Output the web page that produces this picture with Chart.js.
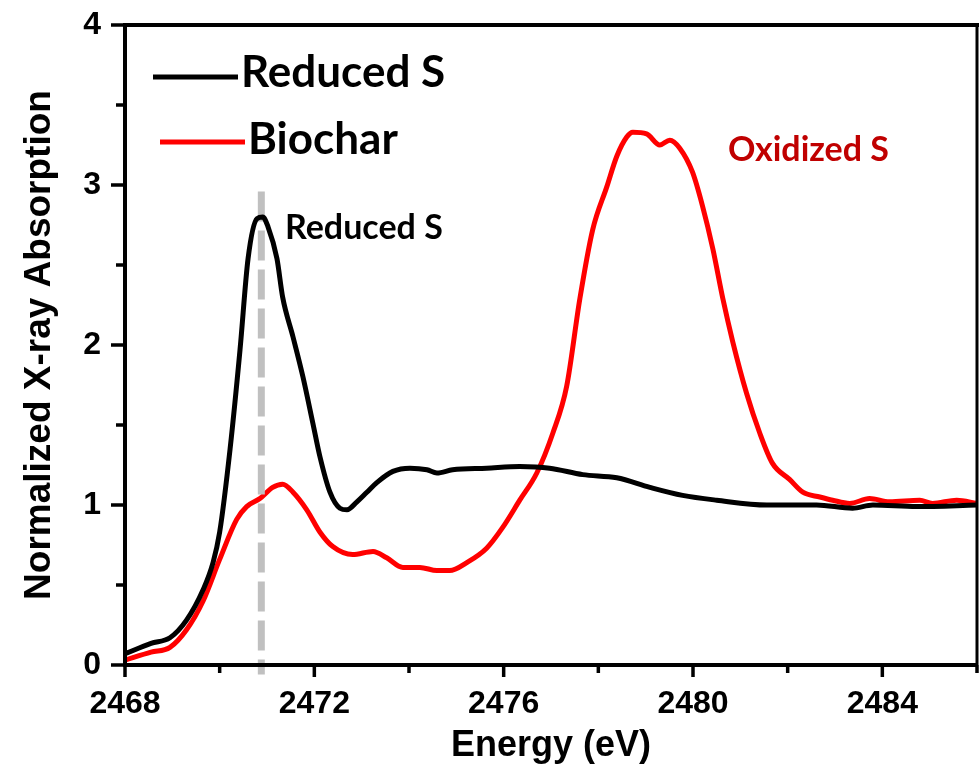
<!DOCTYPE html>
<html>
<head>
<meta charset="utf-8">
<script src="https://cdn.jsdelivr.net/npm/chart.js@4.4.1/dist/chart.umd.min.js"></script>
<style>
  html, body { margin: 0; padding: 0; background: #fff; }
  #wrap { width: 979px; height: 770px; }
</style>
</head>
<body>
<div id="wrap"><canvas id="canvas" width="979" height="770"></canvas></div>
<script>
// Reduced S reference spectrum
const reducedX = [2468.0, 2468.55, 2468.95, 2469.3, 2469.65, 2469.86, 2470.0, 2470.22, 2470.43, 2470.6, 2470.79, 2470.91, 2471.02, 2471.21, 2471.33, 2471.55, 2471.76, 2471.97, 2472.12, 2472.33, 2472.54, 2472.69, 2472.9, 2473.11, 2473.32, 2473.66, 2474.02, 2474.38, 2474.59, 2474.92, 2475.64, 2476.34, 2476.97, 2477.67, 2478.39, 2479.09, 2479.78, 2480.5, 2481.56, 2482.61, 2483.37, 2483.8, 2484.72, 2486.0];
const reducedY = [0.07, 0.135, 0.17, 0.28, 0.47, 0.64, 0.83, 1.35, 1.97, 2.54, 2.79, 2.80, 2.74, 2.54, 2.30, 2.05, 1.80, 1.51, 1.30, 1.08, 0.98, 0.97, 1.02, 1.08, 1.14, 1.21, 1.23, 1.22, 1.20, 1.22, 1.23, 1.24, 1.23, 1.19, 1.17, 1.11, 1.06, 1.03, 1.00, 1.00, 0.98, 1.00, 0.99, 1.00];

// Biochar spectrum
const biocharX = [2468.0, 2468.55, 2468.95, 2469.3, 2469.65, 2470.0, 2470.36, 2470.57, 2470.85, 2471.12, 2471.33, 2471.55, 2471.84, 2472.12, 2472.39, 2472.81, 2473.24, 2473.53, 2473.87, 2474.23, 2474.59, 2474.86, 2475.22, 2475.64, 2475.98, 2476.34, 2476.7, 2477.04, 2477.33, 2477.61, 2477.88, 2478.18, 2478.39, 2478.6, 2478.73, 2479.02, 2479.3, 2479.51, 2479.72, 2479.99, 2480.2, 2480.42, 2480.63, 2480.84, 2481.13, 2481.41, 2481.68, 2482.04, 2482.32, 2482.68, 2482.95, 2483.31, 2483.73, 2484.15, 2484.79, 2485.06, 2485.57, 2486.0];
const biocharY = [0.03, 0.08, 0.11, 0.22, 0.40, 0.66, 0.91, 0.99, 1.04, 1.11, 1.13, 1.08, 0.97, 0.83, 0.74, 0.69, 0.71, 0.67, 0.61, 0.61, 0.59, 0.59, 0.64, 0.73, 0.86, 1.03, 1.20, 1.45, 1.74, 2.29, 2.72, 2.99, 3.18, 3.30, 3.33, 3.32, 3.25, 3.28, 3.23, 3.08, 2.87, 2.60, 2.29, 2.02, 1.70, 1.45, 1.26, 1.16, 1.08, 1.05, 1.03, 1.01, 1.04, 1.02, 1.03, 1.01, 1.03, 1.01];

// dashed marker at the reduced S white line
const markerX = [2470.88, 2470.88];
const markerY = [2.96, -0.06];

const xTicks = [2468, 2472, 2476, 2480, 2484];
const yTicks = [0, 1, 2, 3, 4];

const seriesLabels = ['Reduced S', 'Biochar'];
const notes = [
  { text: 'Reduced S', x: 2471.38, y: 2.73, color: '#000000' },
  { text: 'Oxidized S', x: 2480.74, y: 3.22, color: '#c00000' }
];

function pts(xs, ys) {
  return xs.map((x, i) => ({ x: x, y: ys[i] }));
}

const axisFont = "'Liberation Sans', Arial, sans-serif";
const noteFont = "Lato, 'Open Sans', sans-serif";

// keep the plot box fixed, no extra room for label overhang
function fixBox(scale, w, h) {
  if (w) scale.width = w;
  if (h) scale.height = h;
  scale.paddingLeft = 0;
  scale.paddingRight = 0;
  scale.paddingTop = 0;
  scale.paddingBottom = 0;
}

// frame, outward major/minor ticks
const framePlugin = {
  id: 'frame',
  afterDraw(chart) {
    const ctx = chart.ctx;
    const a = chart.chartArea;
    const xs = chart.scales.x, ys = chart.scales.y;
    ctx.save();
    ctx.strokeStyle = '#000';
    ctx.lineCap = 'butt';
    ctx.lineWidth = 3.5;
    xs.ticks.forEach(t => {
      const px = xs.getPixelForValue(t.value);
      const len = xTicks.includes(t.value) ? 12 : 8;
      ctx.beginPath(); ctx.moveTo(px, a.bottom); ctx.lineTo(px, a.bottom + len); ctx.stroke();
    });
    ys.ticks.forEach(t => {
      const py = ys.getPixelForValue(t.value);
      const len = yTicks.includes(t.value) ? 14 : 9;
      ctx.beginPath(); ctx.moveTo(a.left, py); ctx.lineTo(a.left - len, py); ctx.stroke();
    });
    ctx.lineWidth = 4;
    ctx.beginPath();
    ctx.moveTo(a.left, a.top); ctx.lineTo(a.left, a.bottom + 2);
    ctx.moveTo(a.left - 2, a.bottom); ctx.lineTo(a.right, a.bottom);
    ctx.moveTo(a.left - 2, a.top); ctx.lineTo(a.right + 2, a.top);
    ctx.stroke();
    ctx.lineWidth = 3;
    ctx.beginPath(); ctx.moveTo(a.right, a.top); ctx.lineTo(a.right, a.bottom); ctx.stroke();
    ctx.restore();
  }
};

// legend in the upper left plus the two peak labels
const notesPlugin = {
  id: 'notes',
  afterDatasetsDraw(chart) {
    const ctx = chart.ctx;
    const a = chart.chartArea;
    const ds = chart.data.datasets;
    ctx.save();
    ctx.textAlign = 'left';
    ctx.textBaseline = 'middle';
    ctx.font = 'bold 44px ' + noteFont;
    const rows = [
      { x0: a.left + 28, x1: a.left + 113, y: a.top + 52, tx: a.left + 116, ty: a.top + 48 },
      { x0: a.left + 35, x1: a.left + 120, y: a.top + 117, tx: a.left + 123, ty: a.top + 115 }
    ];
    rows.forEach((r, i) => {
      ctx.strokeStyle = ds[i].borderColor;
      ctx.lineWidth = 5;
      ctx.beginPath(); ctx.moveTo(r.x0, r.y); ctx.lineTo(r.x1, r.y); ctx.stroke();
      ctx.fillStyle = '#000';
      ctx.fillText(ds[i].label, r.tx, r.ty);
    });
    ctx.font = 'bold 34px ' + noteFont;
    notes.forEach(n => {
      ctx.fillStyle = n.color;
      ctx.fillText(n.text, chart.scales.x.getPixelForValue(n.x), chart.scales.y.getPixelForValue(n.y));
    });
    ctx.restore();
  }
};

new Chart(document.getElementById('canvas'), {
  type: 'scatter',
  data: {
    datasets: [
      {
        label: seriesLabels[0],
        data: pts(reducedX, reducedY),
        showLine: true,
        borderColor: '#000000',
        borderWidth: 5,
        pointRadius: 0,
        cubicInterpolationMode: 'monotone',
        order: 0
      },
      {
        label: seriesLabels[1],
        data: pts(biocharX, biocharY),
        showLine: true,
        borderColor: '#ff0000',
        borderWidth: 5,
        pointRadius: 0,
        cubicInterpolationMode: 'monotone',
        order: 2
      },
      {
        label: 'marker',
        data: pts(markerX, markerY),
        showLine: true,
        borderColor: '#c0c0c0',
        borderWidth: 7,
        borderDash: [30, 9],
        pointRadius: 0,
        clip: false,
        order: 1
      }
    ]
  },
  options: {
    responsive: false,
    animation: false,
    devicePixelRatio: 1,
    layout: { padding: { top: 25, right: 2, left: 0, bottom: 0 } },
    plugins: { legend: { display: false }, tooltip: { enabled: false } },
    scales: {
      x: {
        type: 'linear',
        min: 2468,
        max: 2486,
        afterFit(scale) { fixBox(scale, 0, 105); },
        grid: { display: false, drawTicks: false },
        border: { display: false },
        ticks: {
          stepSize: 2,
          autoSkip: false,
          maxRotation: 0,
          padding: 20,
          color: '#000',
          font: { family: axisFont, size: 32, weight: 'bold' },
          callback: v => xTicks.includes(v) ? String(v) : ''
        },
        title: {
          display: true,
          text: 'Energy (eV)',
          color: '#000',
          font: { family: axisFont, size: 36, weight: 'bold' },
          padding: { top: 0, bottom: 2 }
        }
      },
      y: {
        min: 0,
        max: 4,
        afterFit(scale) { fixBox(scale, 125, 0); },
        grid: { display: false, drawTicks: false },
        border: { display: false },
        ticks: {
          stepSize: 0.5,
          autoSkip: false,
          padding: 24,
          color: '#000',
          font: { family: axisFont, size: 32, weight: 'bold' },
          callback: v => yTicks.includes(v) ? String(v) : ''
        },
        title: {
          display: true,
          text: 'Normalized X-ray Absorption',
          color: '#000',
          font: { family: axisFont, size: 37, weight: 'bold' },
          padding: { top: 18, bottom: 0 }
        }
      }
    }
  },
  plugins: [framePlugin, notesPlugin]
});
</script>
</body>
</html>
